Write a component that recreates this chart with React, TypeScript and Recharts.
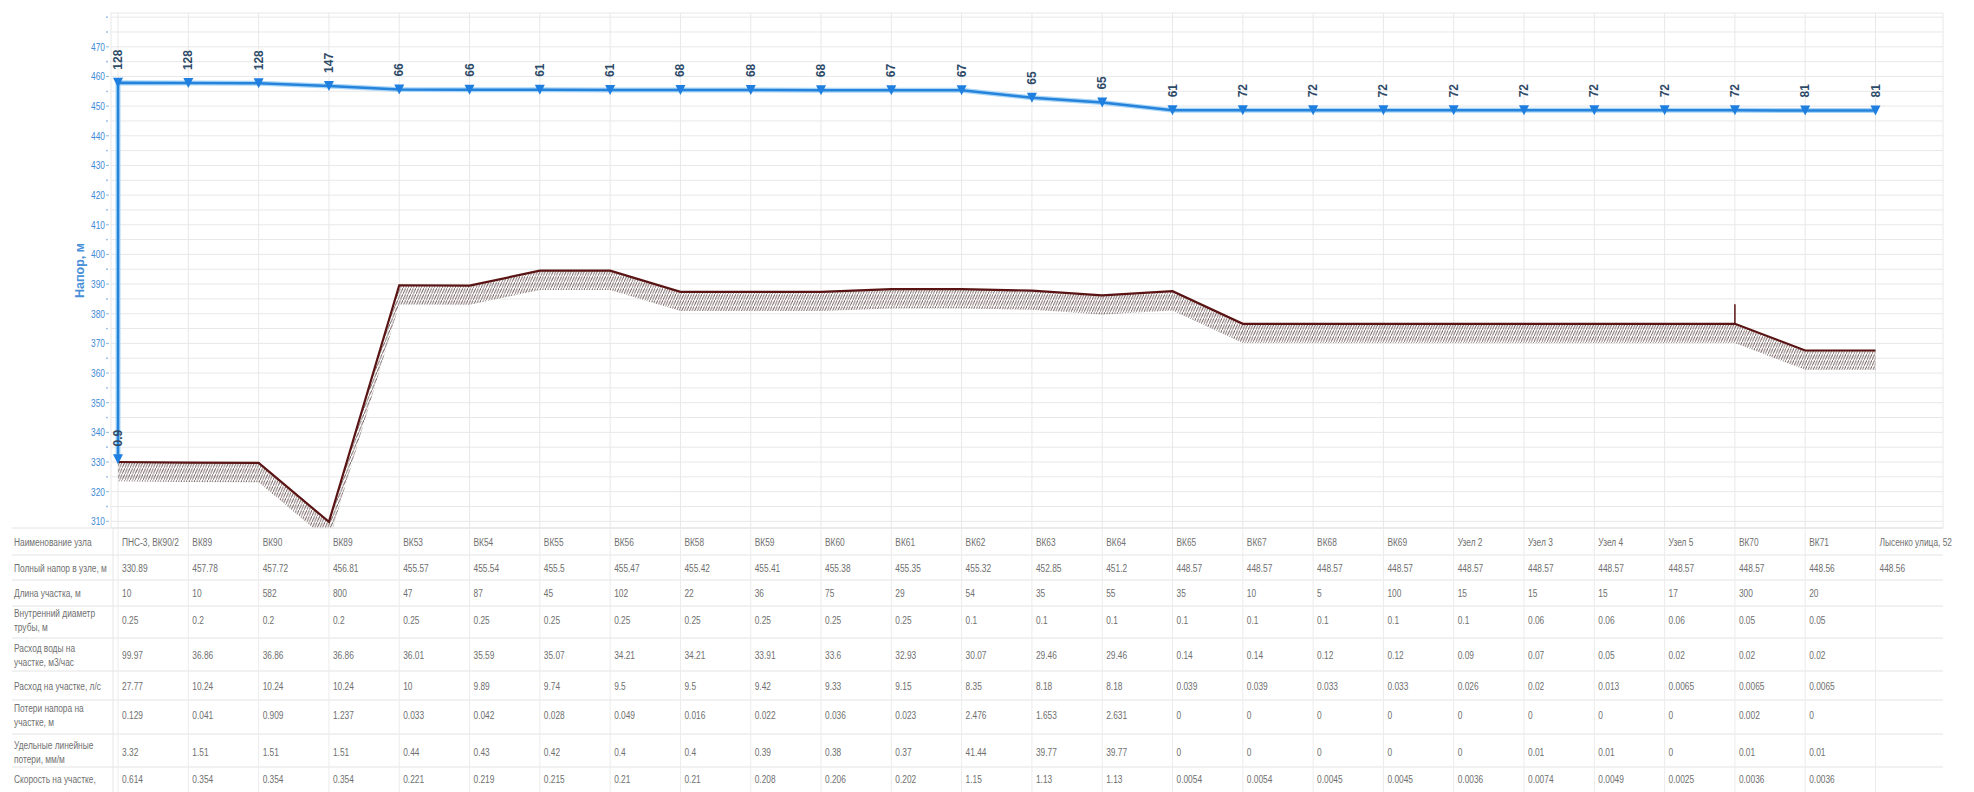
import React from "react";
import { ComposedChart, Line, Area, XAxis, YAxis, CartesianGrid, LabelList } from "recharts";

const W = 1974;
const H = 792;
const PLOT_LEFT = 111;
const TABLE_TOP = 528;

// node names along the pipe
const nodeNames = [
  "ПНС-3, ВК90/2", "ВК89", "ВК90", "ВК89", "ВК53", "ВК54", "ВК55", "ВК56", "ВК58", "ВК59",
  "ВК60", "ВК61", "ВК62", "ВК63", "ВК64", "ВК65", "ВК67", "ВК68", "ВК69", "Узел 2",
  "Узел 3", "Узел 4", "Узел 5", "ВК70", "ВК71", "Лысенко улица, 52",
];
const fullHead = [
  330.89, 457.78, 457.72, 456.81, 455.57, 455.54, 455.5, 455.47, 455.42, 455.41,
  455.38, 455.35, 455.32, 452.85, 451.2, 448.57, 448.57, 448.57, 448.57, 448.57,
  448.57, 448.57, 448.57, 448.57, 448.56, 448.56,
];
const pumpOutletHead = 457.91;
const sectionLength = [10, 10, 582, 800, 47, 87, 45, 102, 22, 36, 75, 29, 54, 35, 55, 35, 10, 5, 100, 15, 15, 15, 17, 300, 20];
const innerDiameter = [0.25, 0.2, 0.2, 0.2, 0.25, 0.25, 0.25, 0.25, 0.25, 0.25, 0.25, 0.25, 0.1, 0.1, 0.1, 0.1, 0.1, 0.1, 0.1, 0.1, 0.06, 0.06, 0.06, 0.05, 0.05];
const flowM3h = [99.97, 36.86, 36.86, 36.86, 36.01, 35.59, 35.07, 34.21, 34.21, 33.91, 33.6, 32.93, 30.07, 29.46, 29.46, 0.14, 0.14, 0.12, 0.12, 0.09, 0.07, 0.05, 0.02, 0.02, 0.02];
const flowLs = [27.77, 10.24, 10.24, 10.24, 10, 9.89, 9.74, 9.5, 9.5, 9.42, 9.33, 9.15, 8.35, 8.18, 8.18, 0.039, 0.039, 0.033, 0.033, 0.026, 0.02, 0.013, 0.0065, 0.0065, 0.0065];
const headLoss = [0.129, 0.041, 0.909, 1.237, 0.033, 0.042, 0.028, 0.049, 0.016, 0.022, 0.036, 0.023, 2.476, 1.653, 2.631, 0, 0, 0, 0, 0, 0, 0, 0, 0.002, 0];
const specificLoss = [3.32, 1.51, 1.51, 1.51, 0.44, 0.43, 0.42, 0.4, 0.4, 0.39, 0.38, 0.37, 41.44, 39.77, 39.77, 0, 0, 0, 0, 0, 0.01, 0.01, 0, 0.01, 0.01];
const velocity = [0.614, 0.354, 0.354, 0.354, 0.221, 0.219, 0.215, 0.21, 0.21, 0.208, 0.206, 0.202, 1.15, 1.13, 1.13, 0.0054, 0.0054, 0.0045, 0.0045, 0.0036, 0.0074, 0.0049, 0.0025, 0.0036, 0.0036];

// free head labels: first one is the pump suction point, then pump outlet and nodes
const freeHead = ["0.9", "128", "128", "128", "147", "66", "66", "61", "61", "68", "68", "68", "67", "67", "65", "65", "61", "72", "72", "72", "72", "72", "72", "72", "72", "81", "81"];
// ground level
const ground = [330, 329.8, 329.7, 309.8, 389.6, 389.5, 394.5, 394.5, 387.4, 387.4, 387.4, 388.3, 388.3, 387.8, 386.2, 387.6, 376.6, 376.6, 376.6, 376.6, 376.6, 376.6, 376.6, 376.6, 367.6, 367.6];
const hatchDepth = 6.5;
const riser = [{ x: 23, y: 376.6 }, { x: 23, y: 383.2 }];

const yTicks = [310, 315, 320, 325, 330, 335, 340, 345, 350, 355, 360, 365, 370, 375, 380, 385, 390, 395, 400, 405, 410, 415, 420, 425, 430, 435, 440, 445, 450, 455, 460, 465, 470, 475, 480];
const xTicks = nodeNames.map((_, i) => i);

const headData = [
  { x: 0, y: fullHead[0] },
  { x: 0, y: pumpOutletHead },
  ...fullHead.slice(1).map((v, i) => ({ x: i + 1, y: v })),
].map((d, i) => ({ ...d, p: freeHead[i] }));
const groundData = ground.map((g, i) => ({ x: i, y: g, band: [g - hatchDepth, g] }));

const ROWS = [
  { label: ["Наименование узла"], values: nodeNames as (string | number)[] },
  { label: ["Полный напор в узле, м"], values: fullHead },
  { label: ["Длина участка, м"], values: sectionLength },
  { label: ["Внутренний диаметр", "трубы, м"], values: innerDiameter },
  { label: ["Расход воды на", "участке, м3/час"], values: flowM3h },
  { label: ["Расход на участке, л/с"], values: flowLs },
  { label: ["Потери напора на", "участке, м"], values: headLoss },
  { label: ["Удельные линейные", "потери, мм/м"], values: specificLoss },
  { label: ["Скорость на участке,"], values: velocity },
];
const ROW_Y = [542, 568, 593, 620, 655, 686, 715, 752, 779];
const ROW_LINES = [528, 555, 580, 606, 638, 671, 700, 734, 767];

const FONT = "'Liberation Sans',Arial,sans-serif";
const TEXT_GRAY = "#6f6f6f";

// narrow text: Arial Narrow is not installed, so squeeze Liberation Sans
function Narrow({ x, y, children, fill = TEXT_GRAY, anchor = "start", size = 11 }: any) {
  return (
    <text
      transform={`translate(${x},${y}) scale(0.76,1)`}
      x={0}
      y={0}
      textAnchor={anchor}
      dominantBaseline="central"
      fontSize={size}
      fontFamily={FONT}
      fill={fill}
    >
      {children}
    </text>
  );
}

function RowLabels() {
  return (
    <g>
      {ROW_LINES.map((y, k) => (
        <line key={"rl" + k} x1={12} x2={1943} y1={y} y2={y} stroke="#e4e4e4" />
      ))}
      <line x1={PLOT_LEFT + 2} x2={PLOT_LEFT + 2} y1={TABLE_TOP} y2={H} stroke="#e6e6e6" />
      {ROWS.map((r, k) =>
        r.label.map((t, j) => (
          <Narrow key={"lab" + k + "-" + j} x={14} y={ROW_Y[k] + (r.label.length === 2 ? (j === 0 ? -7 : 7) : 0)}>
            {t}
          </Narrow>
        ))
      )}
    </g>
  );
}

function TableColumn(props: any) {
  const { x, payload } = props;
  const i = Math.round(payload.value);
  return (
    <g>
      {i === 0 && <RowLabels />}
      <line x1={x} x2={x} y1={TABLE_TOP} y2={H} stroke="#ececec" />
      {ROWS.map((r, k) =>
        r.values[i] === undefined ? null : (
          <Narrow key={"c" + k} x={x + 4} y={ROW_Y[k]}>
            {r.values[i]}
          </Narrow>
        )
      )}
    </g>
  );
}

function YTick(props: any) {
  const { y, payload } = props;
  const v = payload.value;
  const major = v % 10 === 0 && v <= 470;
  if (!major) return <circle cx={PLOT_LEFT - 4} cy={y} r={0.9} fill="#8bb6e2" />;
  return (
    <g>
      <Narrow x={PLOT_LEFT - 6} y={y} anchor="end" fill="#3f8ad6">
        {v}
      </Narrow>
      <line x1={PLOT_LEFT - 5} x2={PLOT_LEFT - 2} y1={y} y2={y} stroke="#8bb6e2" />
    </g>
  );
}

function Marker(props: any) {
  const { cx, cy, index } = props;
  return (
    <path
      key={"m" + index}
      d={`M${cx - 5},${cy - 5}L${cx + 5},${cy - 5}L${cx},${cy + 5}Z`}
      fill="#1f7fe0"
    />
  );
}

function PressureLabel(props: any) {
  const { x, y, value } = props;
  const ay = y - 13;
  return (
    <text
      x={x}
      y={ay}
      transform={`rotate(-90 ${x} ${ay})`}
      textAnchor="start"
      dominantBaseline="central"
      fontSize={12}
      fontWeight="bold"
      fontFamily={FONT}
      fill="#2d4a68"
    >
      {value}
    </text>
  );
}

function AxisTitle(props: any) {
  const vb = props.viewBox || { x: 0, y: 13, width: PLOT_LEFT, height: 515 };
  const cx = 80;
  const cy = vb.y + vb.height / 2;
  return (
    <text
      x={cx}
      y={cy}
      transform={`rotate(-90 ${cx} ${cy})`}
      textAnchor="middle"
      dominantBaseline="central"
      fontSize={12.5}
      fontWeight="bold"
      fontFamily={FONT}
      fill="#4a90d9"
    >
      Напор, м
    </text>
  );
}

export default function App() {
  return (
    <div style={{ position: "absolute", left: 0, top: 0, width: W, height: H, background: "#fff" }}>
      <ComposedChart width={W} height={H} margin={{ top: 13, right: 31, bottom: 0, left: 0 }}>
        <defs>
          <pattern id="hatch" patternUnits="userSpaceOnUse" width={2.6} height={6}>
            <line x1={0} y1={6} x2={2.6} y2={0} stroke="#7a6767" strokeWidth={0.9} />
          </pattern>
        </defs>
        <CartesianGrid stroke="#e8e8e8" />
        <XAxis
          type="number"
          dataKey="x"
          domain={[-0.1, 25.96]}
          ticks={xTicks}
          interval={0}
          allowDataOverflow
          height={264}
          axisLine={false}
          tickLine={false}
          tick={<TableColumn />}
        />
        <YAxis
          type="number"
          domain={[307.75, 481.4]}
          ticks={yTicks}
          interval={0}
          allowDataOverflow
          width={PLOT_LEFT}
          axisLine={false}
          tickLine={false}
          tick={<YTick />}
          label={<AxisTitle />}
        />
        <Area
          data={groundData}
          dataKey="band"
          type="linear"
          stroke="none"
          fill="url(#hatch)"
          fillOpacity={1}
          isAnimationActive={false}
        />
        <Line data={groundData} dataKey="y" type="linear" stroke="#5a1414" strokeWidth={2.2} dot={false} isAnimationActive={false} />
        <Line data={riser} dataKey="y" type="linear" stroke="#5a1414" strokeWidth={1.5} dot={false} isAnimationActive={false} />
        <Line data={headData} dataKey="y" type="linear" stroke="#a9d6f7" strokeWidth={5} dot={false} isAnimationActive={false} />
        <Line data={headData} dataKey="y" type="linear" stroke="#2683dc" strokeWidth={2.5} dot={<Marker />} isAnimationActive={false}>
          <LabelList dataKey="p" content={<PressureLabel />} />
        </Line>
      </ComposedChart>
    </div>
  );
}
